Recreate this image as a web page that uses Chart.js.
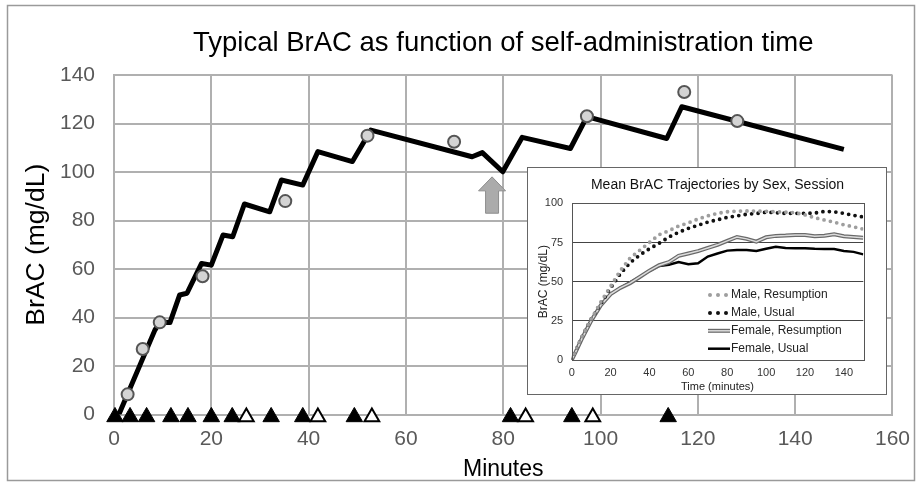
<!DOCTYPE html>
<html>
<head>
<meta charset="utf-8">
<script src="https://cdn.jsdelivr.net/npm/chart.js@4.4.0/dist/chart.umd.min.js"></script>
<style>
  html, body { margin: 0; padding: 0; background: #fff; }
  #wrap { position: relative; width: 922px; height: 486px; }
  #mainChart { position: absolute; left: 0; top: 0; }
  #insetBox { position: absolute; left: 527px; top: 167px; width: 360px; height: 228px;
              background: #fff; border: 1px solid #666; box-sizing: border-box; }
</style>
</head>
<body>
<div id="wrap">
  <canvas id="mainChart" width="922" height="486"></canvas>
  <div id="insetBox"><canvas id="insetChart" width="358" height="226"></canvas></div>
</div>
<script>
// ---- main chart data (minutes, BrAC mg/dL) ----
const lineMinutes = [1, 8.4, 9.4, 11.5, 13.5, 15, 18, 20, 22.4, 24.4, 26.8, 32, 34.4, 38.8, 41.9, 49, 52.8, 73.6, 75.7, 79.9, 83.9, 93.8, 97.2, 113.6, 116.7, 150];
const lineBrac    = [0, 34.8, 38, 37.9, 49.3, 50, 62.3, 61.6, 74, 73.3, 86.8, 83.6, 96.7, 94.6, 108.4, 104.3, 117.3, 106.3, 108, 100.1, 114.3, 109.7, 122.8, 113.8, 126.9, 109.3];

const obsMinutes = [2.8, 5.9, 9.4, 18.2, 35.2, 52.1, 69.9, 97.2, 117.2, 128.1];
const obsBrac    = [8.3, 27, 38, 57, 88, 115, 112.5, 123, 133, 121];

// drink markers sit on the time axis
const filledDrinkMinutes = [0.2, 3.3, 6.7, 11.7, 15.2, 20, 24.3, 32.3, 38.8, 49.4, 81.5, 94.1, 113.9];
const openDrinkMinutes   = [27.2, 41.9, 53, 84.6, 98.4];
const drinkLevel = -1;

// grey arrow: minute, base BrAC, tip BrAC
const arrowMinute = 77.7, arrowBase = 83, arrowTip = 98;

const xTicks = [0, 20, 40, 60, 80, 100, 120, 140, 160];

// ---- inset data ----
const insetTimes     = [0, 2, 5, 10, 15, 20, 25, 30, 35, 40, 45, 50, 55, 60, 65, 70, 75, 80, 85, 90, 95, 100, 105, 110, 115, 120, 125, 130, 135, 140, 145, 150];
const maleResumption = [0, 6, 14, 26, 37, 47, 57, 65, 70, 75, 80, 82.5, 85.5, 87.5, 90, 92, 93.6, 94.6, 95, 95.1, 95, 94.8, 94.6, 94.3, 94, 92.6, 90.8, 89.3, 88, 86.3, 85, 83.5];
const maleUsual      = [0, 6, 14, 26, 36, 46, 55, 62, 67, 71, 74.5, 78.5, 81.5, 84, 86, 88, 89.5, 91, 92, 93, 93.5, 94.3, 94, 93.6, 93.6, 93.6, 93.8, 94.8, 94.6, 93.6, 92.3, 91.3];
const femaleResump   = [0, 5, 13, 25, 35, 42, 46, 49, 53, 57, 60.5, 62.5, 66.5, 68, 69.5, 71.5, 73.5, 76, 78.5, 77.3, 75.5, 78.3, 79.2, 79.4, 79.8, 79.8, 79, 79.3, 80.2, 79, 78.5, 78];
const femaleUsual    = [0, 5, 13, 25, 35, 42, 46, 49.5, 53, 56.8, 60, 60.8, 62.5, 61.1, 61.7, 66, 68, 69.8, 70.2, 70.2, 69.6, 71, 72.3, 71.5, 71.3, 71.3, 71, 70.9, 70.8, 69.6, 69, 67.4];
const insetXTicks    = [0, 20, 40, 60, 80, 100, 120, 140];

Chart.defaults.font.family = "'Liberation Sans', Arial, sans-serif";
Chart.defaults.animation = false;

const pts = (xs, ys) => xs.map((x, i) => ({ x: x, y: ys[i] }));
const onAxis = xs => xs.map(x => ({ x: x, y: drinkLevel }));

// white background + light frame round the whole picture
const frame = {
  id: 'frame',
  beforeDraw(chart) {
    const c = chart.ctx;
    c.save();
    c.fillStyle = '#fff';
    c.fillRect(0, 0, chart.width, chart.height);
    c.strokeStyle = '#9a9a9a';
    c.lineWidth = 1.5;
    c.strokeRect(7.5, 5.5, chart.width - 15, chart.height - 11);
    c.restore();
  }
};

// the upward grey arrow
const arrow = {
  id: 'arrow',
  afterDatasetsDraw(chart) {
    const { x, y } = chart.scales;
    const px = x.getPixelForValue(arrowMinute);
    const top = y.getPixelForValue(arrowTip);
    const bot = y.getPixelForValue(arrowBase);
    const headH = 14, headW = 13.5, shaftW = 6.5;
    const c = chart.ctx;
    c.save();
    c.beginPath();
    c.moveTo(px, top);
    c.lineTo(px + headW, top + headH);
    c.lineTo(px + shaftW, top + headH);
    c.lineTo(px + shaftW, bot);
    c.lineTo(px - shaftW, bot);
    c.lineTo(px - shaftW, top + headH);
    c.lineTo(px - headW, top + headH);
    c.closePath();
    c.fillStyle = '#ababab';
    c.fill();
    c.strokeStyle = '#8e8e8e';
    c.lineWidth = 1;
    c.stroke();
    c.restore();
  }
};

new Chart(document.getElementById('mainChart'), {
  type: 'scatter',
  data: {
    datasets: [
      {
        label: 'Drink',
        data: onAxis(filledDrinkMinutes),
        pointStyle: 'triangle',
        pointRadius: 9.5,
        backgroundColor: '#000',
        borderColor: '#000',
        borderWidth: 1,
        clip: false
      },
      {
        label: 'Drink (open)',
        data: onAxis(openDrinkMinutes),
        pointStyle: 'triangle',
        pointRadius: 8.5,
        backgroundColor: '#fff',
        borderColor: '#000',
        borderWidth: 2,
        clip: false
      },
      {
        label: 'Observed BrAC',
        data: pts(obsMinutes, obsBrac),
        pointRadius: 6,
        backgroundColor: '#d4d4d4',
        borderColor: '#555',
        borderWidth: 2,
        clip: false
      },
      {
        label: 'Typical BrAC',
        data: pts(lineMinutes, lineBrac),
        showLine: true,
        pointRadius: 0,
        borderColor: '#000',
        borderWidth: 5,
        borderJoinStyle: 'round',
        tension: 0
      }
    ]
  },
  options: {
    responsive: false,
    layout: { padding: { left: 0, right: 27, top: 0, bottom: 0 } },
    plugins: {
      legend: { display: false },
      tooltip: { enabled: false },
      title: {
        display: true,
        fullSize: false,
        text: 'Typical BrAC as function of self-administration time',
        color: '#000',
        font: { size: 27.5, weight: 'normal' },
        padding: { top: 26.5, bottom: 15.5 }
      }
    },
    scales: {
      x: {
        type: 'linear',
        min: 0, max: 160,
        afterBuildTicks: s => { s.ticks = xTicks.map(v => ({ value: v })); },
        afterFit: s => { s.height = 71.5; },
        grid: { color: '#b0b0b0', lineWidth: 2, drawTicks: false },
        border: { color: '#b0b0b0', width: 2 },
        ticks: { color: '#595959', font: { size: 21 }, padding: 12 },
        title: { display: true, text: 'Minutes', color: '#000', font: { size: 23 }, padding: { top: 0, bottom: 3 } }
      },
      y: {
        min: 0, max: 140,
        ticks: { stepSize: 20, color: '#595959', font: { size: 21 }, padding: 19 },
        afterFit: s => { s.width = 114; },
        grid: { color: '#b0b0b0', lineWidth: 2, drawTicks: false },
        border: { color: '#b0b0b0', width: 2 },
        title: { display: true, text: 'BrAC (mg/dL)', color: '#000', font: { size: 26.5 }, padding: { top: 21, bottom: 0 } }
      }
    }
  },
  plugins: [frame, arrow]
});

// ---- inset ----
const insetFrame = {
  id: 'insetFrame',
  afterDatasetsDraw(chart) {
    const a = chart.chartArea, c = chart.ctx;
    c.save();
    c.strokeStyle = '#555';
    c.lineWidth = 1;
    c.strokeRect(Math.round(a.left) + 0.5, Math.round(a.top) + 0.5, Math.round(a.right - a.left), Math.round(a.bottom - a.top));
    c.restore();
  }
};

const insetLegend = {
  id: 'insetLegend',
  afterDraw(chart) {
    const a = chart.chartArea, c = chart.ctx;
    const x0 = a.left + 136.3;
    let y = a.top + 91.7;
    c.save();
    c.font = "12px 'Liberation Sans', Arial, sans-serif";
    c.textBaseline = 'middle';
    chart.data.datasets.forEach(ds => {
      if (!ds.legendMarker) return;
      if (ds.legendMarker === 'dots') {
        c.fillStyle = ds.borderColor;
        [2, 10, 18].forEach(d => { c.beginPath(); c.arc(x0 + d, y, 2, 0, Math.PI * 2); c.fill(); });
      } else if (ds.legendMarker === 'double') {
        c.lineCap = 'butt';
        c.strokeStyle = '#6a6a6a'; c.lineWidth = 4;
        c.beginPath(); c.moveTo(x0, y); c.lineTo(x0 + 22, y); c.stroke();
        c.strokeStyle = '#dcdcdc'; c.lineWidth = 1.5;
        c.beginPath(); c.moveTo(x0, y); c.lineTo(x0 + 22, y); c.stroke();
      } else {
        c.strokeStyle = ds.borderColor; c.lineWidth = 2.5;
        c.beginPath(); c.moveTo(x0, y); c.lineTo(x0 + 22, y); c.stroke();
      }
      c.fillStyle = '#222';
      c.fillText(ds.label, x0 + 23, y);
      y += 17.9;
    });
    c.restore();
  }
};

new Chart(document.getElementById('insetChart'), {
  type: 'line',
  data: {
    datasets: [
      {
        label: 'Male, Resumption', legendMarker: 'dots',
        data: pts(insetTimes, maleResumption),
        borderColor: '#9e9e9e', borderWidth: 3.8, borderDash: [0, 6.5], borderCapStyle: 'round',
        pointRadius: 0, order: 1
      },
      {
        label: 'Male, Usual', legendMarker: 'dots',
        data: pts(insetTimes, maleUsual),
        borderColor: '#111', borderWidth: 3.8, borderDash: [0, 6.5], borderCapStyle: 'round',
        pointRadius: 0, order: 2
      },
      {
        label: 'Female, Resumption', legendMarker: 'double',
        data: pts(insetTimes, femaleResump),
        borderColor: '#6a6a6a', borderWidth: 4, pointRadius: 0, order: 3
      },
      {
        label: 'Female, Resumption (inner)',
        data: pts(insetTimes, femaleResump),
        borderColor: '#dcdcdc', borderWidth: 1.5, pointRadius: 0, order: 2.5
      },
      {
        label: 'Female, Usual', legendMarker: 'line',
        data: pts(insetTimes, femaleUsual),
        borderColor: '#000', borderWidth: 2.5, pointRadius: 0, order: 4
      }
    ]
  },
  options: {
    responsive: false,
    layout: { padding: { left: 0, right: 22.7, top: 0, bottom: 0 } },
    elements: { line: { tension: 0 } },
    plugins: {
      legend: { display: false },
      tooltip: { enabled: false },
      title: {
        display: true,
        fullSize: false,
        text: 'Mean BrAC Trajectories by Sex, Session',
        color: '#111',
        font: { size: 14, weight: 'normal' },
        padding: { top: 8.6, bottom: 9.9 }
      }
    },
    scales: {
      x: {
        type: 'linear',
        min: 0, max: 150,
        afterBuildTicks: s => { s.ticks = insetXTicks.map(v => ({ value: v })); },
        afterFit: s => { s.height = 34; },
        grid: { display: false, drawTicks: false },
        border: { display: false },
        ticks: { color: '#333', font: { size: 11 }, padding: 6, autoSkip: false },
        title: { display: true, text: 'Time (minutes)', color: '#222', font: { size: 11 }, padding: { top: 0, bottom: 0 } }
      },
      y: {
        min: 0, max: 100,
        afterFit: s => { s.width = 43.7; },
        grid: { color: '#444', lineWidth: 1, drawTicks: false },
        border: { display: false },
        ticks: { stepSize: 25, color: '#333', font: { size: 11 }, padding: 8.5 },
        title: { display: true, text: 'BrAC (mg/dL)', color: '#222', font: { size: 12 }, padding: { top: 8.8, bottom: 0 } }
      }
    }
  },
  plugins: [insetFrame, insetLegend]
});
</script>
</body>
</html>
